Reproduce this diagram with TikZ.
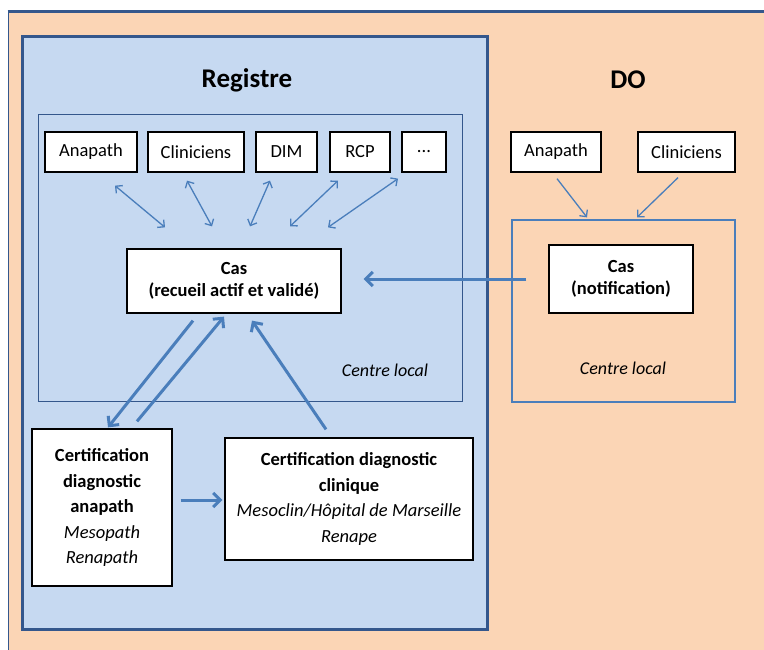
\documentclass[tikz,border=0pt]{standalone}
\usepackage{fontspec}
\setmainfont{Carlito}
\usetikzlibrary{arrows.meta,calc}
\definecolor{peach}{RGB}{251,213,181}
\definecolor{regblue}{RGB}{198,217,241}
\definecolor{frameblue}{RGB}{52,87,140}
\definecolor{arrowblue}{RGB}{74,126,187}
\tikzset{
  wbox/.style={draw=black, fill=white, line width=1.3pt, inner sep=0pt, align=center,
    font=\fontsize{18.5}{21}\selectfont},
  casbox/.style={wbox, font=\fontsize{18.5}{21.5}\selectfont\bfseries},
  certbox/.style={wbox, font=\fontsize{18.5}{25.5}\selectfont},
  title/.style={font=\fontsize{27}{30}\selectfont\bfseries},
  loclabel/.style={font=\fontsize{18}{21}\selectfont\itshape},
  thinarrow/.style={draw=arrowblue, line width=1.3pt, {Straight Barb[length=5pt,width=10pt]}-{Straight Barb[length=5pt,width=10pt]}},
  oneway/.style={draw=arrowblue, line width=1.3pt, -{Straight Barb[length=5pt,width=10pt]}},
  thickarrow/.style={draw=arrowblue, line width=3pt, -{Straight Barb[length=7pt,width=14pt]}}
}
\begin{document}
\begin{tikzpicture}[x=1pt,y=-1pt]
\useasboundingbox (0,0) rectangle (764,650);
\fill[white] (0,0) rectangle (764,650);
% outer peach frame
\fill[peach] (8,12) rectangle (764,650);
\draw[frameblue, line width=1pt] (8,12) -- (8,650);
\draw[frameblue, line width=3pt] (7.5,12) -- (764,12);
% Registre panel
\draw[fill=regblue, draw=frameblue, line width=3pt] (22,37) rectangle (487,629);
\node[title] (regt) at (247,80) {Registre};
\node[title] (dot) at (628,80) {DO};
% local boxes
\draw[draw=frameblue, line width=1pt] (38,115) rectangle (462,401);
\node[draw=arrowblue, line width=1.3pt, minimum width=223pt, minimum height=182pt, inner sep=0pt] (dolocal) at (623.5,311) {};
\node[loclabel] (cl1) at (385,370) {Centre local};
\node[loclabel] (cl2) at (623,368) {Centre local};
% top row registre
\node[wbox, minimum width=92pt, minimum height=40pt] (ana1) at (91,152) {Anapath};
\node[wbox, minimum width=96pt, minimum height=40pt] (cli1) at (196,152) {Cliniciens};
\node[wbox, minimum width=61pt, minimum height=40pt] (dim) at (286.5,152) {DIM};
\node[wbox, minimum width=60pt, minimum height=40pt] (rcp) at (360,152) {RCP};
\node[wbox, minimum width=44pt, minimum height=40pt] (dots) at (424,152) {...};
% top row DO
\node[wbox, minimum width=90pt, minimum height=40pt] (ana2) at (556,152) {Anapath};
\node[wbox, minimum width=97pt, minimum height=40pt] (cli2) at (686.5,152) {Cliniciens};
% cas boxes
\node[casbox, minimum width=214pt, minimum height=64pt] (cas1) at (234,281) {Cas\\(recueil actif et validé)};
\node[casbox, minimum width=144pt, minimum height=68pt] (cas2) at (621,279) {Cas\\(notification)};
% certification boxes
\node[certbox, minimum width=140pt, minimum height=157pt] (certA) at (102,507.5)
  {\textbf{Certification}\\\textbf{diagnostic}\\\textbf{anapath}\\\textit{Mesopath}\\\textit{Renapath}};
\node[certbox, minimum width=248pt, minimum height=122pt] (certC) at (349,499)
  {\textbf{Certification diagnostic}\\\textbf{clinique}\\\textit{Mesoclin/Hôpital de Marseille}\\\textit{Renape}};
% thin double arrows
\draw[thinarrow] ($(ana1.south)+(24,13)$) -- ($(cas1.north)+(-69,-21)$);
\draw[thinarrow] ($(cli1.south)+(-9,8)$) -- ($(cas1.north)+(-22,-22)$);
\draw[thinarrow] ($(dim.south)+(-16.5,8)$) -- ($(cas1.north)+(16,-22)$);
\draw[thinarrow] ($(rcp.south)+(-22,8)$) -- ($(cas1.north)+(56,-22)$);
\draw[thinarrow] ($(dots.south)+(-26,6)$) -- ($(cas1.north)+(94,-21)$);
% DO arrows
\draw[oneway] ($(ana2.south)+(1,6)$) -- ($(dolocal.north)+(-36.5,-2)$);
\draw[oneway] ($(cli2.south)+(-8.5,5)$) -- ($(dolocal.north)+(13.5,-2)$);
% thick arrows
\draw[thickarrow] ($(cas1.south)+(-41,7)$) -- ($(certA.north)+(6,-1)$);
\draw[thickarrow] ($(certA.north)+(35,-7)$) -- ($(cas1.south)+(-10,3)$);
\draw[thickarrow] ($(certC.north)+(-23,-8)$) -- ($(cas1.south)+(18,7)$);
\draw[thickarrow] ($(certA.east)+(8,-7.5)$) -- ($(certC.west)+(-2,1)$);
\draw[thickarrow] ($(cas2.west)+(-22,0)$) -- ($(cas1.east)+(22,-2)$);
\end{tikzpicture}
\end{document}
